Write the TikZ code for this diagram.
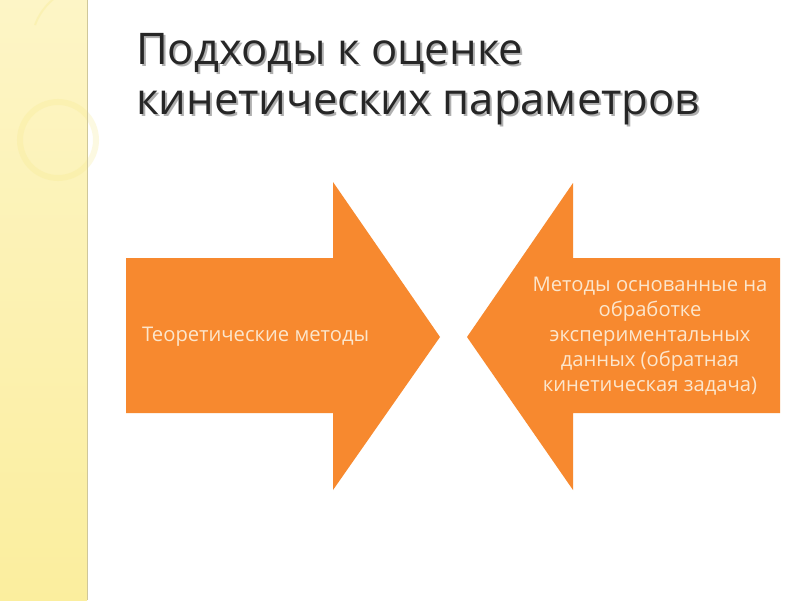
\documentclass[tikz,border=0pt]{standalone}
\usepackage{fontspec}
\setmainfont{Open Sans}
\usetikzlibrary{shadings}
\definecolor{stripA}{HTML}{FDF5C6}
\definecolor{stripB}{HTML}{FBEE9E}
\definecolor{stripline}{HTML}{CFC79A}
\definecolor{arroworange}{HTML}{F7892F}
\definecolor{arrowtext}{HTML}{FCE6CC}
\definecolor{titlecol}{HTML}{262626}
\definecolor{shadowcol}{HTML}{B0B0B0}
\definecolor{ringcol}{HTML}{F6E98A}
\begin{document}
\begin{tikzpicture}[x=1pt,y=-1pt,
  arrowshape/.style={fill=arroworange,draw=none},
  titletext/.style={anchor=base west,inner sep=0pt,font=\fontsize{43.6}{50}\selectfont,text=titlecol},
  titleshadow/.style={anchor=base west,inner sep=0pt,font=\fontsize{43.6}{50}\selectfont,text=shadowcol},
  bodytext/.style={inner sep=0pt,font=\fontsize{20.2}{25}\selectfont,text=arrowtext}]
\useasboundingbox (0,0) rectangle (800,600);
\fill[white] (0,0) rectangle (800,600);
% left strip
\shade[top color=stripA,bottom color=stripB] (0,0) rectangle (87,600);
\draw[ringcol,line width=6pt,opacity=0.25] (58,140) circle (38);
\draw[ringcol,line width=2pt,opacity=0.3] (35,25) arc (200:300:60);
\draw[stripline,line width=1.5pt] (87.5,0) -- (87.5,600);
% title
\node[titleshadow] (t1s) at (138,66) {Подходы к оценке};
\node[titleshadow] (t2s) at (138,116) {кинетических параметров};
\node[titletext] (t1) at (136,64) {Подходы к оценке};
\node[titletext] (t2) at (136,114) {кинетических параметров};
% left arrow
\fill[arrowshape] (126,258) -- (333,258) -- (333,182) -- (440,337) -- (333,490) -- (333,413) -- (126,413) -- cycle;
% right arrow
\fill[arrowshape] (780,258) -- (573,258) -- (573,183) -- (467,337) -- (573,490) -- (573,413) -- (780,413) -- cycle;
\node[bodytext,anchor=west] (lt) at (142,337) {Теоретические методы};
\node[bodytext,align=center] (rt) at (650,336) {Методы основанные на\\обработке\\экспериментальных\\данных (обратная\\кинетическая задача)};
\end{tikzpicture}
\end{document}
